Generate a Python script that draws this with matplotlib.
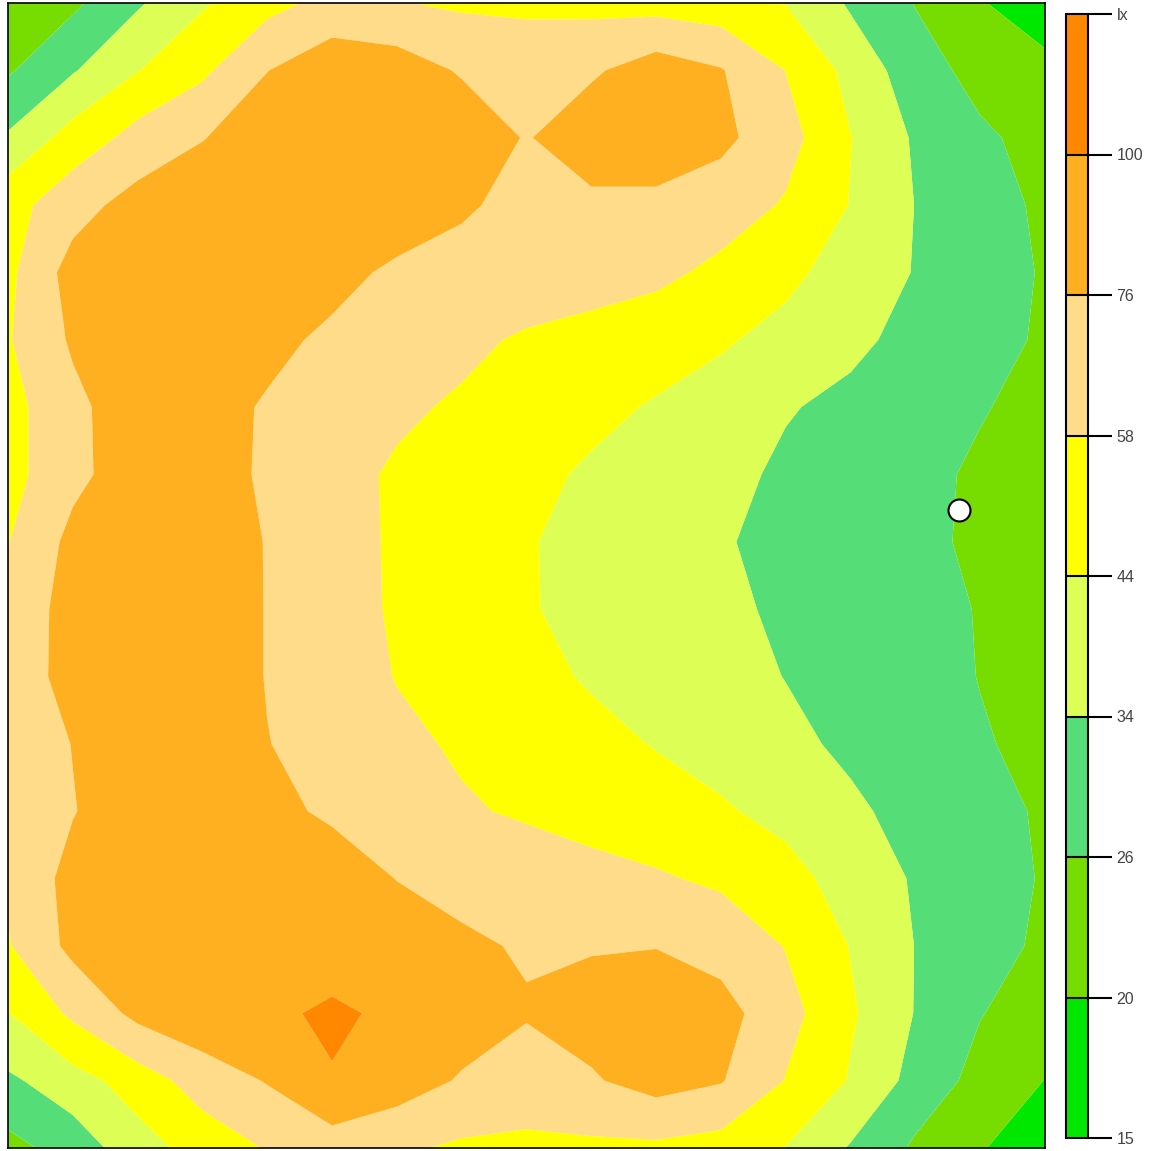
import matplotlib.pyplot as plt
import numpy as np

# room size in metres (grid spans the whole plan)
room_w, room_d = 10.4, 11.5

# illuminance classes shown in the legend
levels = [15, 20, 26, 34, 44, 58, 76, 100, 130]
level_labels = ["15", "20", "26", "34", "44", "58", "76", "100", "lx"]
band_colors = ["#00e800", "#77dd00", "#55dd77", "#ddff55",
               "#ffff00", "#ffdc8a", "#ffb020", "#ff8800"]

# sensor position (m, measured from the top-left corner)
sensor_x, sensor_y = 9.54, 5.09

# measured illuminance (lx), rows top -> bottom, columns left -> right
lux = [
    [21.2, 24.5, 32.8, 42.5, 52.4, 63.4, 58.9, 55.2, 54.5, 53.1, 51.0, 47.5, 43.5, 32.8, 25.7, 20.3, 17.5],
    [25.1, 33.2, 43.5, 54.5, 75.6, 88.0, 85.6, 74.2, 68.8, 73.3, 85.6, 77.2, 57.7, 40.0, 29.2, 23.6, 21.2],
    [35.0, 48.2, 63.4, 75.1, 88.0, 92.8, 92.8, 88.0, 74.7, 88.0, 90.4, 80.8, 63.4, 44.3, 32.8, 27.2, 23.6],
    [51.0, 68.8, 83.2, 90.4, 95.2, 95.2, 88.0, 78.4, 70.6, 71.5, 70.6, 65.2, 56.6, 43.5, 33.8, 28.8, 24.8],
    [53.8, 83.2, 95.2, 97.6, 95.2, 82.0, 72.4, 69.7, 67.9, 65.2, 61.6, 54.5, 46.8, 39.0, 33.6, 29.2, 25.4],
    [56.6, 78.4, 90.4, 89.2, 80.8, 72.4, 67.0, 61.6, 55.9, 52.4, 48.9, 45.4, 40.5, 35.5, 32.0, 28.4, 25.1],
    [51.7, 71.5, 86.8, 83.2, 74.2, 67.9, 60.7, 55.9, 51.0, 46.8, 43.0, 39.0, 34.5, 32.4, 30.0, 26.4, 24.2],
    [51.7, 71.5, 85.6, 84.4, 73.3, 63.4, 55.9, 51.7, 46.8, 42.5, 39.0, 36.0, 32.8, 30.0, 27.6, 25.1, 23.6],
    [57.3, 80.8, 90.4, 88.0, 75.1, 64.3, 55.9, 51.0, 44.7, 41.0, 38.0, 34.5, 32.4, 29.6, 27.2, 25.1, 23.3],
    [63.4, 83.2, 92.8, 90.4, 75.1, 65.2, 55.9, 51.0, 44.7, 41.5, 38.5, 35.5, 32.8, 30.4, 28.0, 25.7, 23.6],
    [64.3, 83.2, 92.8, 90.4, 75.1, 67.0, 57.3, 52.4, 46.8, 43.0, 39.5, 37.0, 33.8, 31.6, 28.8, 25.8, 23.6],
    [63.4, 76.5, 90.4, 89.2, 76.5, 68.8, 61.6, 55.9, 51.0, 46.8, 43.5, 39.5, 36.0, 32.4, 29.6, 26.6, 24.2],
    [59.8, 75.1, 88.0, 88.0, 82.0, 72.4, 66.1, 59.8, 55.9, 51.7, 48.2, 45.4, 40.5, 35.5, 31.2, 28.4, 25.1],
    [60.7, 82.0, 92.8, 96.4, 95.2, 88.0, 75.5, 71.5, 67.0, 63.4, 59.8, 55.2, 48.2, 39.0, 33.2, 29.2, 25.4],
    [56.6, 80.8, 92.8, 96.4, 95.0, 82.0, 88.0, 78.4, 74.6, 74.7, 75.5, 68.8, 57.3, 43.5, 33.8, 29.2, 24.5],
    [43.5, 60.7, 80.8, 90.4, 93.0, 106.0, 93.0, 85.6, 77.2, 83.2, 86.8, 83.2, 63.4, 45.4, 33.6, 26.3, 22.4],
    [32.4, 39.0, 49.6, 65.2, 77.2, 97.6, 85.6, 74.2, 68.8, 74.2, 83.2, 77.2, 57.3, 43.0, 30.8, 23.6, 19.9],
    [23.6, 29.2, 39.0, 48.9, 58.9, 65.2, 60.7, 55.2, 53.8, 54.5, 54.5, 51.0, 43.6, 33.2, 24.8, 20.3, 17.5],
]


def plot_map():
    z = np.array(lux)
    ny, nx = z.shape
    x = np.linspace(0, room_w, nx)
    y = np.linspace(0, room_d, ny)

    fig = plt.figure(figsize=(11.55, 11.51), dpi=100)
    ax = fig.add_axes([8 / 1155, 1 - 1148 / 1151, 1037 / 1155, 1145 / 1151])
    cs = ax.contourf(x, y, z, levels=levels, colors=band_colors, antialiased=True)
    ax.set_xlim(0, room_w)
    ax.set_ylim(room_d, 0)
    ax.set_xticks([])
    ax.set_yticks([])
    for s in ax.spines.values():
        s.set_linewidth(1.2)

    # sensor marker
    ax.scatter([sensor_x], [sensor_y], s=250, c="white", edgecolors="black",
               linewidths=1.5, zorder=5, clip_on=False)

    # legend bar
    cax = fig.add_axes([1066 / 1155, 1 - 1138 / 1151, 22 / 1155, 1124 / 1151])
    cb = fig.colorbar(cs, cax=cax, ticks=levels, drawedges=True)
    cb.ax.set_yticklabels(level_labels, family="Liberation Sans")
    cb.ax.tick_params(length=17, width=1.5, direction="out", labelsize=11.5,
                      labelcolor="#444444", pad=3.5)
    cb.outline.set_linewidth(1.5)
    cb.dividers.set_linewidth(1.5)

    fig.savefig("out.png", dpi=100)
    plt.close(fig)


if __name__ == "__main__":
    plot_map()
